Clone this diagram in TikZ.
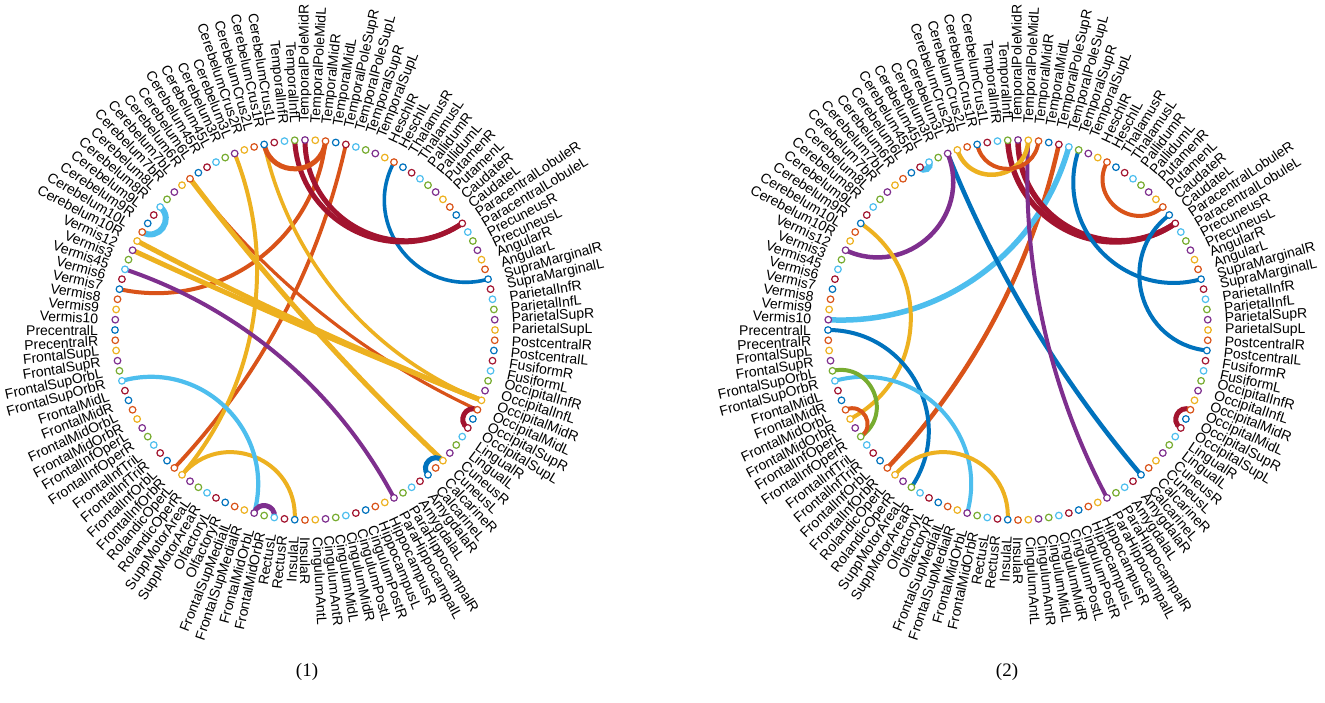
\documentclass[tikz,border=0pt]{standalone}
\usepackage{fontspec}
\setmainfont{Liberation Sans}
\newfontfamily\capfont{Liberation Serif}
\definecolor{mc0}{RGB}{0,114,189}
\definecolor{mc1}{RGB}{217,83,25}
\definecolor{mc2}{RGB}{237,177,32}
\definecolor{mc3}{RGB}{126,47,142}
\definecolor{mc4}{RGB}{119,172,48}
\definecolor{mc5}{RGB}{77,190,238}
\definecolor{mc6}{RGB}{162,20,47}
\newcommand{\regionlist}{PrecentralL,PrecentralR,FrontalSupL,FrontalSupR,FrontalSupOrbL,FrontalSupOrbR,FrontalMidL,FrontalMidR,FrontalMidOrbL,FrontalMidOrbR,FrontalInfOperL,FrontalInfOperR,FrontalInfTriL,FrontalInfTriR,FrontalInfOrbL,FrontalInfOrbR,RolandicOperL,RolandicOperR,SuppMotorAreaL,SuppMotorAreaR,OlfactoryL,OlfactoryR,FrontalSupMedialL,FrontalSupMedialR,FrontalMidOrbL,FrontalMidOrbR,RectusL,RectusR,InsulaL,InsulaR,CingulumAntL,CingulumAntR,CingulumMidL,CingulumMidR,CingulumPostL,CingulumPostR,HippocampusL,HippocampusR,ParaHippocampalL,ParaHippocampalR,AmygdalaL,AmygdalaR,CalcarineL,CalcarineR,CuneusL,CuneusR,LingualL,LingualR,OccipitalSupL,OccipitalSupR,OccipitalMidL,OccipitalMidR,OccipitalInfL,OccipitalInfR,FusiformL,FusiformR,PostcentralL,PostcentralR,ParietalSupL,ParietalSupR,ParietalInfL,ParietalInfR,SupraMarginalL,SupraMarginalR,AngularL,AngularR,PrecuneusL,PrecuneusR,ParacentralLobuleL,ParacentralLobuleR,CaudateL,CaudateR,PutamenL,PutamenR,PallidumL,PallidumR,ThalamusL,ThalamusR,HeschlL,HeschlR,TemporalSupL,TemporalSupR,TemporalPoleSupL,TemporalPoleSupR,TemporalMidL,TemporalMidR,TemporalPoleMidL,TemporalPoleMidR,TemporalInfL,TemporalInfR,CerebelumCrus1L,CerebelumCrus1R,CerebelumCrus2L,CerebelumCrus2R,Cerebelum3L,Cerebelum3R,Cerebelum45L,Cerebelum45R,Cerebelum6L,Cerebelum6R,Cerebelum7bL,Cerebelum7bR,Cerebelum8L,Cerebelum8R,Cerebelum9L,Cerebelum9R,Cerebelum10L,Cerebelum10R,Vermis12,Vermis3,Vermis45,Vermis6,Vermis7,Vermis8,Vermis9,Vermis10}
\newcommand{\placecoords}[1]{%
  \foreach \k in {0,...,115}{%
    \pgfmathsetmacro{\ang}{180+\k*3.1034483}%
    \coordinate (#1-\k) at (\ang:190);}}
\newcommand{\placenodes}[1]{%
  \foreach \nm [count=\k from 0] in \regionlist {%
    \pgfmathsetmacro{\ang}{180+\k*3.1034483}%
    \pgfmathtruncatemacro{\ci}{mod(\k,7)}%
    \node[dotnode, draw=mc\ci] (#1d\k) at (#1-\k) {};%
    \ifnum\k<29
      \node[labnode, anchor=east, rotate=\ang+180] (#1t\k) at (\ang:207) {\nm};%
    \else\ifnum\k>87
      \node[labnode, anchor=east, rotate=\ang+180] (#1t\k) at (\ang:207) {\nm};%
    \else
      \node[labnode, anchor=west, rotate=\ang] (#1t\k) at (\ang:207) {\nm};%
    \fi\fi}}
\newcommand{\geod}[5]{%
  \pgfmathtruncatemacro{\gs}{mod(#3-#2+116,116)}%
  \ifnum\gs<59
    \pgfmathsetmacro{\gb}{90-\gs*1.5517241}%
    \pgfmathsetmacro{\gl}{1/(3*cos(\gb/2)^2*0.3915)}%
    \draw[chord, line width=#5pt, draw=#4] (#1-#2) to[bend left=\gb, looseness=\gl] (#1-#3);%
  \else
    \pgfmathsetmacro{\gb}{90-(116-\gs)*1.5517241}%
    \pgfmathsetmacro{\gl}{1/(3*cos(\gb/2)^2*0.3915)}%
    \draw[chord, line width=#5pt, draw=#4] (#1-#2) to[bend right=\gb, looseness=\gl] (#1-#3);%
  \fi}
\tikzset{
  dotnode/.style={circle, inner sep=0pt, minimum size=6.6pt, line width=1.2pt, fill=white},
  labnode/.style={inner sep=0pt, text=black, font=\fontsize{14}{16}\selectfont},
  chord/.style={line cap=butt},
  capnode/.style={inner sep=0pt, font=\capfont\fontsize{19}{22}\selectfont}
}
\begin{document}
\begin{tikzpicture}[x=1pt,y=1pt]
\useasboundingbox (0,0) rectangle (1325,702);
\fill[white] (0,0) rectangle (1325,702);
% ---------- panel 1
\begin{scope}[shift={(305,372)}]
  \placecoords{p1}
  \geod{p1}{85}{112}{mc1}{4}
  \geod{p1}{15}{83}{mc1}{3.8}
  \geod{p1}{50}{99}{mc1}{3.2}
  \geod{p1}{16}{94}{mc2}{4}
  \geod{p1}{51}{107}{mc2}{5}
  \geod{p1}{51}{108}{mc2}{5}
  \geod{p1}{51}{91}{mc2}{3.6}
  \geod{p1}{44}{99}{mc2}{5}
  \geod{p1}{16}{28}{mc2}{4}
  \geod{p1}{38}{110}{mc3}{4}
  \geod{p1}{5}{24}{mc5}{4.2}
  \geod{p1}{63}{78}{mc0}{3.6}
  \geod{p1}{69}{87}{mc6}{5}
  \geod{p1}{69}{88}{mc6}{5}
  \geod{p1}{85}{91}{mc1}{5}
  \geod{p1}{48}{50}{mc6}{5}
  \geod{p1}{42}{44}{mc0}{5}
  \geod{p1}{103}{106}{mc5}{6}
  \geod{p1}{24}{26}{mc3}{5}
  \placenodes{p1}
\end{scope}
% ---------- panel 2
\begin{scope}[shift={(1018,372)}]
  \placecoords{p2}
  \geod{p2}{15}{83}{mc1}{4.5}
  \geod{p2}{82}{115}{mc5}{5.5}
  \geod{p2}{42}{94}{mc0}{4.5}
  \geod{p2}{69}{87}{mc6}{5.5}
  \geod{p2}{69}{88}{mc6}{5.5}
  \geod{p2}{38}{86}{mc3}{4}
  \geod{p2}{86}{93}{mc2}{4.5}
  \geod{p2}{85}{91}{mc1}{4}
  \geod{p2}{94}{108}{mc3}{4.5}
  \geod{p2}{96}{97}{mc5}{6}
  \geod{p2}{63}{81}{mc0}{4}
  \geod{p2}{56}{70}{mc0}{4}
  \geod{p2}{71}{78}{mc1}{4}
  \geod{p2}{9}{105}{mc2}{4}
  \geod{p2}{0}{18}{mc0}{4}
  \geod{p2}{5}{24}{mc5}{4}
  \geod{p2}{4}{11}{mc4}{4}
  \geod{p2}{8}{11}{mc1}{4}
  \geod{p2}{16}{28}{mc2}{4}
  \geod{p2}{48}{50}{mc6}{5}
  \placenodes{p2}
\end{scope}
\node[capnode] (cap1) at (307,30) {(1)};
\node[capnode] (cap2) at (1007,30) {(2)};
\end{tikzpicture}
\end{document}
